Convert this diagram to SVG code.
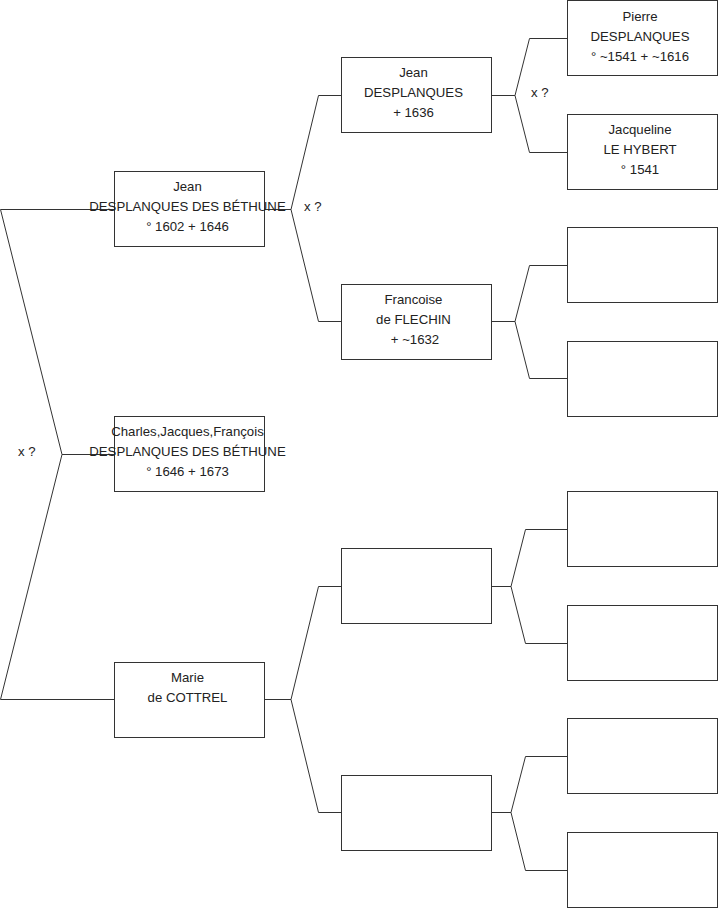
<svg xmlns="http://www.w3.org/2000/svg" width="719" height="908" viewBox="0 0 719 908">
<style>
.box{fill:#fff;stroke:#333;stroke-width:1}
.ln{fill:none;stroke:#333;stroke-width:1}
text{font-family:"Liberation Sans",Arial,sans-serif;font-size:13.2px;fill:#222}
.c{text-anchor:middle}
</style>
<rect width="719" height="908" fill="#fff"/>
<g id="connectors">
<polyline class="ln" points="114,209.5 0.5,209.5 62,454.5 0.5,699.5 114,699.5"/>
<line class="ln" x1="62" y1="454.5" x2="114" y2="454.5"/>
<polyline class="ln" points="341,95.5 318.5,95.5 291,209.5 318.5,321.5 341,321.5"/>
<line class="ln" x1="265" y1="209.5" x2="291" y2="209.5"/>
<polyline class="ln" points="341,586.5 318.5,586.5 291,699.5 318.5,812.5 341,812.5"/>
<line class="ln" x1="265" y1="699.5" x2="291" y2="699.5"/>
<polyline class="ln" points="567,38.5 529.5,38.5 515,95.5 529.5,152.5 567,152.5"/>
<line class="ln" x1="492" y1="95.5" x2="515" y2="95.5"/>
<polyline class="ln" points="567,265.5 529.5,265.5 515,321.5 529.5,378.5 567,378.5"/>
<line class="ln" x1="492" y1="321.5" x2="515" y2="321.5"/>
<polyline class="ln" points="567,529.5 525.5,529.5 511,586.5 525.5,643.5 567,643.5"/>
<line class="ln" x1="492" y1="586.5" x2="511" y2="586.5"/>
<polyline class="ln" points="567,756.5 525.5,756.5 511,812.5 525.5,870.5 567,870.5"/>
<line class="ln" x1="492" y1="812.5" x2="511" y2="812.5"/>
<text x="18" y="456">x ?</text>
<text x="304" y="211">x ?</text>
<text x="531" y="97">x ?</text>
</g>
<g id="n-jean-db">
<rect class="box" x="114.5" y="171.5" width="150" height="75"/>
<text class="c" x="187.5" y="191">Jean</text>
<text class="c" x="187.5" y="211">DESPLANQUES DES BÉTHUNE</text>
<text class="c" x="187.5" y="231">° 1602 + 1646</text>
</g>
<g id="n-charles">
<rect class="box" x="114.5" y="416.5" width="150" height="75"/>
<text class="c" x="187.5" y="436">Charles,Jacques,François</text>
<text class="c" x="187.5" y="456">DESPLANQUES DES BÉTHUNE</text>
<text class="c" x="187.5" y="476">° 1646 + 1673</text>
</g>
<g id="n-marie">
<rect class="box" x="114.5" y="662.5" width="150" height="75"/>
<text class="c" x="187.5" y="682">Marie</text>
<text class="c" x="187.5" y="702">de COTTREL</text>
</g>
<g id="n-jean-d">
<rect class="box" x="341.5" y="57.5" width="150" height="75"/>
<text class="c" x="413.5" y="77">Jean</text>
<text class="c" x="413.5" y="97">DESPLANQUES</text>
<text class="c" x="413.5" y="117">+ 1636</text>
</g>
<g id="n-francoise">
<rect class="box" x="341.5" y="284.5" width="150" height="75"/>
<text class="c" x="413.5" y="304">Francoise</text>
<text class="c" x="413.5" y="324">de FLECHIN</text>
<text class="c" x="415" y="344">+ ~1632</text>
</g>
<g id="n-empty-c2a"><rect class="box" x="341.5" y="548.5" width="150" height="75"/></g>
<g id="n-empty-c2b"><rect class="box" x="341.5" y="775.5" width="150" height="75"/></g>
<g id="n-pierre">
<rect class="box" x="567.5" y="0.5" width="150" height="75"/>
<text class="c" x="640" y="21">Pierre</text>
<text class="c" x="640" y="41">DESPLANQUES</text>
<text class="c" x="640" y="61">° ~1541 + ~1616</text>
</g>
<g id="n-jacqueline">
<rect class="box" x="567.5" y="114.5" width="150" height="75"/>
<text class="c" x="640" y="134">Jacqueline</text>
<text class="c" x="640" y="154">LE HYBERT</text>
<text class="c" x="640" y="174">° 1541</text>
</g>
<g id="n-empty-c3a"><rect class="box" x="567.5" y="227.5" width="150" height="75"/></g>
<g id="n-empty-c3b"><rect class="box" x="567.5" y="341.5" width="150" height="75"/></g>
<g id="n-empty-c3c"><rect class="box" x="567.5" y="491.5" width="150" height="75"/></g>
<g id="n-empty-c3d"><rect class="box" x="567.5" y="605.5" width="150" height="75"/></g>
<g id="n-empty-c3e"><rect class="box" x="567.5" y="718.5" width="150" height="75"/></g>
<g id="n-empty-c3f"><rect class="box" x="567.5" y="832.5" width="150" height="75"/></g>
</svg>
